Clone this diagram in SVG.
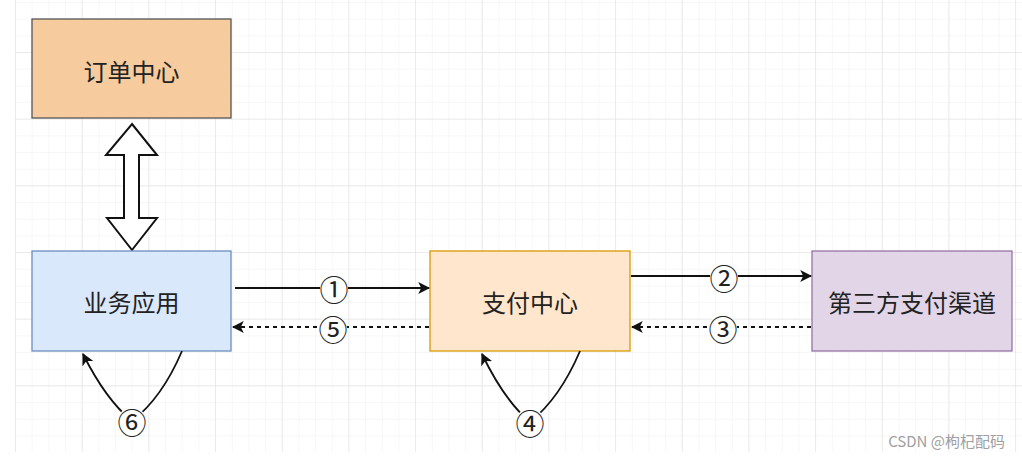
<svg xmlns="http://www.w3.org/2000/svg" width="1022" height="458" viewBox="0 0 1022 458">
<defs>
<pattern id="minor" x="15" y="2" width="16.67" height="16.67" patternUnits="userSpaceOnUse">
<path d="M0 0H16.67M0 0V16.67" fill="none" stroke="#efefef" stroke-width="1"/>
</pattern>
<pattern id="major" x="15" y="-14.7" width="66.67" height="66.67" patternUnits="userSpaceOnUse">
<path d="M0 0H66.67M0 0V66.67" fill="none" stroke="#dedede" stroke-width="1"/>
</pattern>
<marker id="arr" viewBox="0 0 10 10" refX="9" refY="5" markerWidth="12" markerHeight="12" markerUnits="userSpaceOnUse" orient="auto">
<path d="M0 0L10 5L0 10L2.5 5Z" fill="#111"/>
</marker>
</defs>
<style>
.node rect{stroke-width:1.3}
.lbl{font-family:"Noto Sans CJK SC","Noto Sans",sans-serif;font-size:24px;fill:#222;text-anchor:middle;dominant-baseline:central}
.num{font-family:"Noto Sans CJK SC","DejaVu Sans",sans-serif;font-size:29px;fill:#222;text-anchor:middle;dominant-baseline:central}
.edge{fill:none;stroke:#111;stroke-width:1.8}
.dash{stroke-dasharray:4 4}
.bg{fill:#fff}
</style>
<rect width="1022" height="458" fill="#fff"/>
<rect x="15" y="0" width="1007" height="452" fill="url(#minor)"/>
<rect x="15" y="0" width="1007" height="452" fill="url(#major)"/>

<g id="order-center" class="node">
<rect x="32" y="19" width="199" height="99" fill="#f6cb9d" stroke="#555"/>
<text class="lbl" x="131.5" y="70">订单中心</text>
</g>

<g id="double-arrow">
<path d="M132 124L157 155H139V218H157L132 250L107 218H124V155H106Z" fill="#fff" stroke="#111" stroke-width="2" stroke-linejoin="miter"/>
</g>

<g id="business-app" class="node">
<rect x="32" y="251" width="199" height="100" fill="#dae8fc" stroke="#6c8ebf"/>
<text class="lbl" x="131.5" y="301">业务应用</text>
</g>

<g id="pay-center" class="node">
<rect x="430" y="251" width="200" height="100" fill="#ffe6cc" stroke="#d79b00"/>
<text class="lbl" x="530" y="301">支付中心</text>
</g>

<g id="third-party" class="node">
<rect x="812" y="251" width="200" height="100" fill="#e1d5e7" stroke="#9673a6"/>
<text class="lbl" x="912" y="301">第三方支付渠道</text>
</g>

<g id="connectors">
<path class="edge" d="M235 288H429" marker-end="url(#arr)"/>
<path class="edge dash" d="M429 327H233" marker-end="url(#arr)"/>
<path class="edge" d="M631 276H811" marker-end="url(#arr)"/>
<path class="edge dash" d="M811 327H632" marker-end="url(#arr)"/>
<path class="edge" d="M182 351Q162 398 132 421Q106 400 83 354" marker-end="url(#arr)"/>
<path class="edge" d="M580 351Q560 398 530 422Q504 400 482 354" marker-end="url(#arr)"/>
</g>

<g id="labels">
<circle class="bg" cx="334" cy="288" r="14"/>
<text class="num" x="334" y="288">①</text>
<circle class="bg" cx="333" cy="328" r="14"/>
<text class="num" x="333" y="328">⑤</text>
<circle class="bg" cx="724" cy="277" r="14"/>
<text class="num" x="724" y="277">②</text>
<circle class="bg" cx="723" cy="328" r="14"/>
<text class="num" x="723" y="328">③</text>
<circle class="bg" cx="132" cy="421" r="14"/>
<text class="num" x="132" y="421">⑥</text>
<circle class="bg" cx="530" cy="422" r="14"/>
<text class="num" x="530" y="422">④</text>
</g>

<text x="1005" y="447" text-anchor="end" font-family="'Noto Sans CJK SC','Liberation Sans',sans-serif" font-size="15" fill="#a0a0a0">CSDN @枸杞配码</text>
</svg>
